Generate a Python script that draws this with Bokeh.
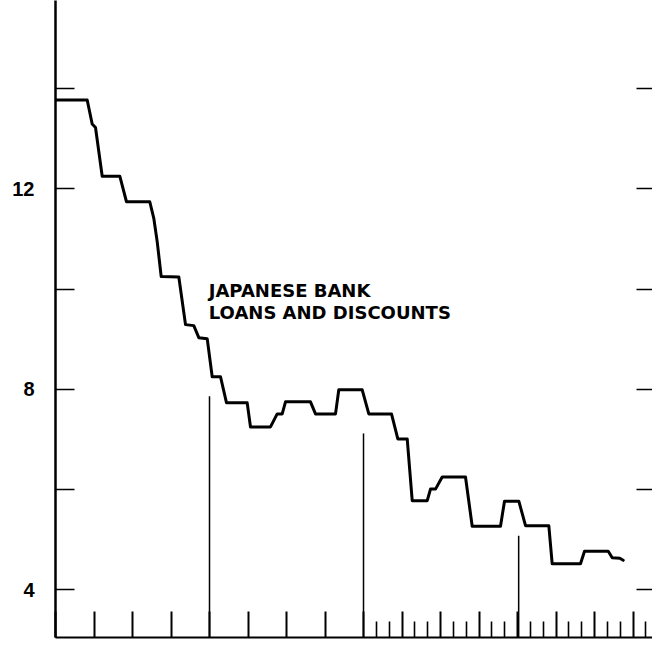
from bokeh.plotting import figure
from bokeh.models import Range1d, LinearAxis, FixedTicker
from bokeh.embed import file_html
from bokeh.resources import INLINE
from bokeh.core.properties import value

# ---- data (x in axis units, y in percent) ----
loan_x = [0, 0.823, 0.953, 1.039, 1.213, 1.670, 1.844, 2.449, 2.553, 2.642,
          2.745, 3.203, 3.377, 3.592, 3.722, 3.940, 4.070, 4.286, 4.442, 4.979,
          5.065, 5.584, 5.758, 5.888, 5.974, 6.623, 6.753, 7.273, 7.358, 7.966,
          8.138, 8.727, 8.891, 9.135, 9.265, 9.655, 9.740, 9.870, 10.044, 10.649,
          10.823, 11.558, 11.662, 12.034, 12.208, 12.813, 12.901, 13.636, 13.740, 14.356,
          14.460, 14.657, 14.745]
loan_rate = [13.77, 13.77, 13.29, 13.22, 12.25, 12.25, 11.74, 11.74, 11.41, 10.94,
             10.25, 10.24, 9.29, 9.27, 9.03, 9.01, 8.25, 8.25, 7.73, 7.73,
             7.25, 7.25, 7.51, 7.51, 7.75, 7.75, 7.51, 7.51, 7.99, 7.99,
             7.51, 7.51, 7.01, 7.01, 5.78, 5.78, 6.01, 6.01, 6.25, 6.25,
             5.27, 5.27, 5.77, 5.77, 5.28, 5.28, 4.52, 4.52, 4.77, 4.77,
             4.64, 4.63, 4.59]

marker_x = [4.0, 8.0, 12.03]
marker_top = [7.86, 7.12, 5.08]

y_major_ticks = [4, 8, 12, 16]
y_minor_ticks = [6, 10, 14]
x_major_ticks = list(range(0, 17))
x_minor_ticks = [8 + k / 3 for k in range(1, 25) if k % 3]

title_lines = ["JAPANESE BANK", "LOANS AND DISCOUNTS"]
title_x = [3.98, 3.98]
title_y = [9.967, 9.525]

# ---- figure ----
Y0, Y1 = 3.051, 15.753
p = figure(width=652, height=639,
           x_range=Range1d(0, 15.506), y_range=Range1d(Y0, Y1),
           output_backend="svg", toolbar_location=None,
           min_border_left=55, min_border_right=0,
           min_border_top=0, min_border_bottom=2)
p.outline_line_color = None
p.grid.visible = False
p.background_fill_color = "white"
p.border_fill_color = "white"

# bottom axis (ticks only, no labels)
xa = p.xaxis[0]
xa.ticker = FixedTicker(ticks=x_major_ticks, minor_ticks=x_minor_ticks)
xa.major_tick_in = 26
xa.major_tick_out = 0
xa.minor_tick_in = 16
xa.minor_tick_out = 0
xa.axis_line_width = 2
xa.axis_line_color = "black"
xa.major_tick_line_width = 2
xa.major_tick_line_color = "black"
xa.minor_tick_line_width = 1.6
xa.minor_tick_line_color = "black"
xa.major_label_overrides = {t: "" for t in x_major_ticks}
xa.major_label_standoff = 0

# left axis
ya = p.yaxis[0]
ya.ticker = FixedTicker(ticks=y_major_ticks, minor_ticks=y_minor_ticks)
ya.major_tick_in = 19
ya.major_tick_out = 0
ya.minor_tick_in = 19
ya.minor_tick_out = 0
ya.axis_line_width = 2.5
ya.axis_line_color = "black"
ya.major_tick_line_width = 1.6
ya.minor_tick_line_width = 1.6
ya.major_tick_line_color = "black"
ya.minor_tick_line_color = "black"
ya.major_label_standoff = 21
ya.major_label_text_font = "Liberation Sans"
ya.major_label_text_font_style = "bold"
ya.major_label_text_font_size = "20px"
ya.major_label_text_color = "black"

# right axis: inward ticks only
ra = LinearAxis(ticker=FixedTicker(ticks=y_major_ticks, minor_ticks=y_minor_ticks))
ra.major_tick_in = 16
ra.major_tick_out = 0
ra.minor_tick_in = 16
ra.minor_tick_out = 0
ra.axis_line_alpha = 0
ra.major_tick_line_width = 1.6
ra.minor_tick_line_width = 1.6
ra.major_tick_line_color = "black"
ra.minor_tick_line_color = "black"
ra.major_label_overrides = {t: "" for t in y_major_ticks}
ra.major_label_standoff = 0
p.add_layout(ra, "right")

# marker verticals
p.segment(x0=marker_x, y0=[Y0] * len(marker_x), x1=marker_x, y1=marker_top,
          line_color="black", line_width=1.5)

# series
p.line(loan_x, loan_rate, line_color="black", line_width=3,
       line_join="round", line_cap="round")

# annotation
p.text(x=title_x, y=title_y, text=title_lines,
       text_font=value("DejaVu Sans"), text_font_style="bold",
       text_font_size="18px",
       text_baseline="alphabetic", text_align="left", text_color="black")

open("out.html", "w").write(file_html(p, INLINE))
